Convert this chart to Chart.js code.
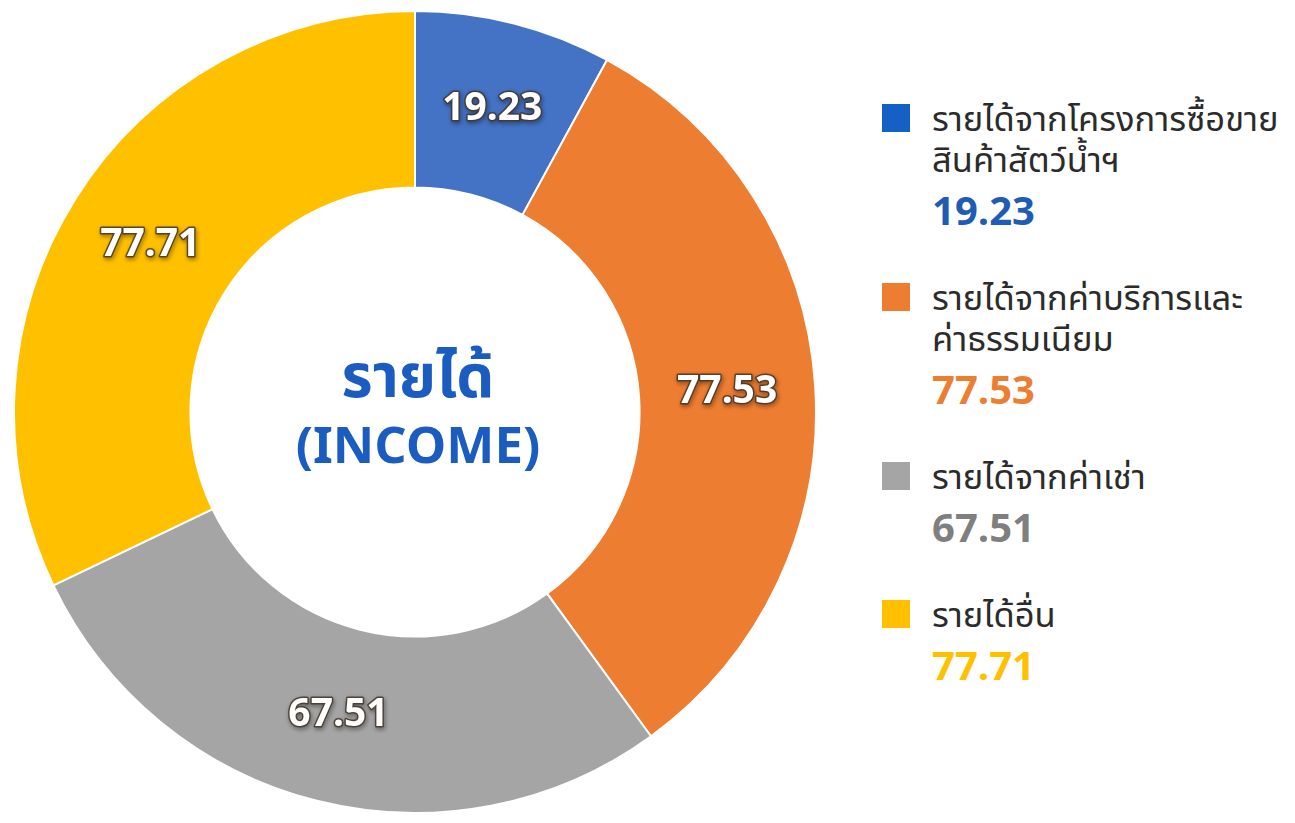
<!DOCTYPE html>
<html>
<head>
<meta charset="utf-8">
<script src="https://cdn.jsdelivr.net/npm/chart.js@4/dist/chart.umd.min.js"></script>
<style>
  html, body { margin:0; padding:0; background:#fff; width:1295px; height:823px; overflow:hidden; }
  body { position:relative; font-family: "Noto Sans Thai", "Noto Sans", "Open Sans", sans-serif; }
  #wrap { position:absolute; left:13px; top:10px; width:804px; height:804px; }
  #center { position:absolute; left:218px; top:343px; width:400px; text-align:center; color:#1a5cc0; font-weight:700; }
  #center .l1 { font-size:60px; line-height:72px; }
  #center .l2 { font-size:51px; line-height:66px; }
  #legend { position:absolute; left:882px; top:100px; }
  .item { position:relative; padding-left:50px; margin-bottom:41px; }
  .sq { position:absolute; left:0; top:4px; width:28px; height:28px; }
  .lab { font-size:34.5px; line-height:41px; color:#2b2b2b; white-space:nowrap; }
  .val { font-size:40px; line-height:50px; font-weight:700; margin-top:6px; }
</style>
</head>
<body>
<div id="wrap"><canvas id="c"></canvas></div>
<div id="center"><div class="l1">รายได้</div><div class="l2">(INCOME)</div></div>
<div id="legend"></div>
<script>
const categories = [
  ["รายได้จากโครงการซื้อขาย", "สินค้าสัตว์น้ำฯ"],
  ["รายได้จากค่าบริการและ", "ค่าธรรมเนียม"],
  ["รายได้จากค่าเช่า"],
  ["รายได้อื่น"]
];
const values = [19.23, 77.53, 67.51, 77.71];
const valueLabels = ["19.23", "77.53", "67.51", "77.71"];
const sliceColors = ["#4472C4", "#ED7D31", "#A5A5A5", "#FFC000"];
const legendSquareColors = ["#1560C4", "#ED7D31", "#A5A5A5", "#FFC000"];
const legendValueColors = ["#1F5CB5", "#ED7D31", "#7F7F7F", "#FFC000"];

// HTML legend built from the arrays
const legend = document.getElementById('legend');
categories.forEach((lines, i) => {
  const it = document.createElement('div'); it.className = 'item';
  const sq = document.createElement('div'); sq.className = 'sq'; sq.style.background = legendSquareColors[i];
  it.appendChild(sq);
  lines.forEach(t => { const d = document.createElement('div'); d.className = 'lab'; d.textContent = t; it.appendChild(d); });
  const v = document.createElement('div'); v.className = 'val'; v.style.color = legendValueColors[i]; v.textContent = valueLabels[i];
  it.appendChild(v);
  legend.appendChild(it);
});

const sliceLabels = {
  id: 'sliceLabels',
  afterDatasetsDraw(chart) {
    const ctx = chart.ctx;
    const meta = chart.getDatasetMeta(0);
    ctx.save();
    ctx.font = '700 39px "Noto Sans", "Open Sans", sans-serif';
    ctx.textAlign = 'center';
    ctx.textBaseline = 'middle';
    meta.data.forEach((arc, i) => {
      const p = arc.getCenterPoint();
      const t = valueLabels[i];
      ctx.shadowColor = 'rgba(0,0,0,0.55)';
      ctx.shadowBlur = 4; ctx.shadowOffsetX = 1; ctx.shadowOffsetY = 2;
      ctx.lineJoin = 'round';
      ctx.strokeStyle = 'rgba(70,55,40,0.85)';
      ctx.lineWidth = 3;
      ctx.strokeText(t, p.x, p.y);
      ctx.shadowColor = 'transparent';
      ctx.fillStyle = '#ffffff';
      ctx.fillText(t, p.x, p.y);
    });
    ctx.restore();
  }
};

new Chart(document.getElementById('c'), {
  type: 'doughnut',
  data: {
    labels: categories.map(l => l.join('')),
    datasets: [{
      data: values,
      backgroundColor: sliceColors,
      borderColor: '#ffffff',
      borderWidth: 2,
      hoverOffset: 0
    }]
  },
  options: {
    responsive: true,
    maintainAspectRatio: false,
    animation: false,
    cutout: '56%',
    layout: { padding: 0 },
    plugins: { legend: { display: false }, tooltip: { enabled: false } }
  },
  plugins: [sliceLabels]
});
</script>
</body>
</html>
